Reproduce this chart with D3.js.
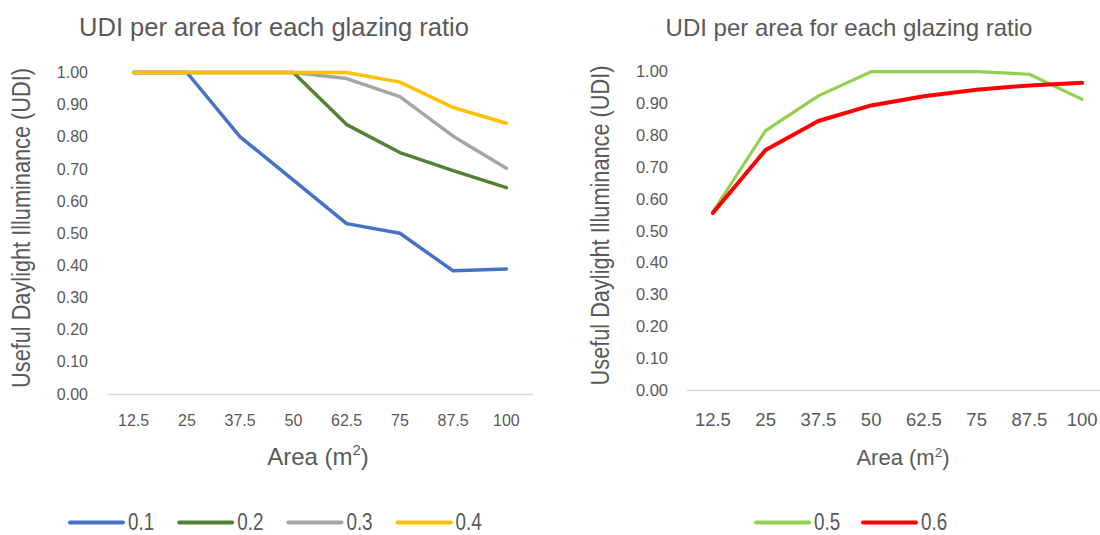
<!DOCTYPE html>
<html>
<head>
<meta charset="utf-8">
<script src="https://cdn.jsdelivr.net/npm/d3@7"></script>
<style>
  html, body { margin: 0; padding: 0; background: #fff; }
  svg { display: block; }
  text { fill: #595959; }
</style>
</head>
<body>
<svg id="chart" width="1100" height="535"></svg>
<script>
// Floor areas (m²) on the category axis
const areas = ["12.5", "25", "37.5", "50", "62.5", "75", "87.5", "100"];
// UDI tick values shared by both panels
const udiTicks = [0, 0.1, 0.2, 0.3, 0.4, 0.5, 0.6, 0.7, 0.8, 0.9, 1.0];

// Glazing ratio names
const ratiosLeft = ["0.1", "0.2", "0.3", "0.4"];
const ratiosRight = ["0.5", "0.6"];

// UDI per area for each glazing ratio
const udi01 = [1.00, 1.00, 0.80, 0.665, 0.53, 0.50, 0.383, 0.389];
const udi02 = [1.00, 1.00, 1.00, 1.00, 0.838, 0.751, 0.695, 0.642];
const udi03 = [1.00, 1.00, 1.00, 1.00, 0.981, 0.925, 0.802, 0.702];
const udi04 = [1.00, 1.00, 1.00, 1.00, 1.00, 0.970, 0.891, 0.842];
const udi05 = [0.56, 0.815, 0.924, 1.00, 1.00, 1.00, 0.992, 0.913];
const udi06 = [0.556, 0.754, 0.845, 0.894, 0.923, 0.943, 0.957, 0.965];

const colors = {
  "0.1": "#4472C4", "0.2": "#548235", "0.3": "#A5A5A5", "0.4": "#FFC000",
  "0.5": "#92D050", "0.6": "#FF0000"
};

const svg = d3.select("#chart");
const TEXT = "#595959";
const FONT = "'Liberation Sans', Arial, sans-serif";
// horizontal squeeze giving a condensed look for axis titles and legend
const NARROW = 0.82;

function drawPanel(cfg) {
  const g = svg.append("g");

  const x = d3.scaleBand().domain(areas).range([cfg.left, cfg.right]);
  const y = d3.scaleLinear().domain([0, 1]).range([cfg.bottom, cfg.top]);

  // title
  g.append("text")
    .attr("x", cfg.titleX).attr("y", 36)
    .attr("text-anchor", "middle")
    .style("font-family", FONT)
    .style("font-size", cfg.titleSize + "px")
    .text("UDI per area for each glazing ratio");

  // y axis (labels only)
  const yAxis = g.append("g")
    .attr("transform", `translate(${cfg.left},0)`)
    .call(d3.axisLeft(y).tickValues(udiTicks).tickFormat(d3.format(".2f"))
      .tickSize(0).tickPadding(cfg.yPad));
  yAxis.select(".domain").remove();
  yAxis.selectAll("text")
    .style("font-family", FONT)
    .style("font-size", cfg.yTickSize + "px")
    .attr("fill", TEXT);

  // x axis with light baseline
  const xAxis = g.append("g")
    .attr("transform", `translate(0,${cfg.bottom})`)
    .call(d3.axisBottom(x).tickSize(0).tickSizeOuter(0).tickPadding(cfg.xPad));
  xAxis.select(".domain").attr("stroke", "#D9D9D9").attr("stroke-width", 1.5);
  xAxis.selectAll("text")
    .style("font-family", FONT)
    .style("font-size", cfg.xTickSize + "px")
    .attr("fill", TEXT);

  // axis titles
  g.append("text")
    .attr("transform", `translate(${cfg.yTitleX},${cfg.yTitleY}) rotate(-90) scale(${NARROW},1)`)
    .attr("text-anchor", "middle")
    .style("font-family", FONT)
    .style("font-size", cfg.yTitleSize + "px")
    .text("Useful Daylight Illuminance (UDI)");

  const xt = g.append("text")
    .attr("x", cfg.xTitleX).attr("y", cfg.xTitleY)
    .attr("text-anchor", "middle")
    .style("font-family", FONT)
    .style("font-size", cfg.xTitleSize + "px");
  xt.append("tspan").text("Area (m");
  xt.append("tspan").attr("dy", -cfg.xTitleSize * 0.38)
    .style("font-size", (cfg.xTitleSize * 0.62) + "px").text("2");
  xt.append("tspan").attr("dy", cfg.xTitleSize * 0.38).text(")");

  // series lines
  const line = d3.line()
    .x((d, i) => x(areas[i]) + x.bandwidth() / 2)
    .y(d => y(d));

  cfg.series.forEach(s => {
    g.append("path")
      .datum(s.values)
      .attr("fill", "none")
      .attr("stroke", colors[s.name])
      .attr("stroke-width", s.width)
      .attr("stroke-linejoin", "round")
      .attr("stroke-linecap", "round")
      .attr("d", line);
  });

  // legend
  const lg = g.append("g");
  cfg.series.forEach((s, i) => {
    const lx = cfg.legendX + i * cfg.legendStep;
    lg.append("line")
      .attr("x1", lx).attr("x2", lx + 53)
      .attr("y1", 522.5).attr("y2", 522.5)
      .attr("stroke", colors[s.name])
      .attr("stroke-width", 4)
      .attr("stroke-linecap", "round");
    lg.append("text")
      .attr("transform", `translate(${lx + 58},529.5) scale(${NARROW},1)`)
      .style("font-family", FONT)
      .style("font-size", "23px")
      .text(s.name);
  });
}

drawPanel({
  left: 107, right: 533, top: 72.5, bottom: 394,
  titleX: 274, titleSize: 25.5,
  yPad: 19, yTickSize: 16, xPad: 21, xTickSize: 16,
  yTitleX: 30, yTitleY: 228, yTitleSize: 26.5,
  xTitleX: 318, xTitleY: 464.5, xTitleSize: 24,
  legendX: 70, legendStep: 109.2,
  series: [
    { name: ratiosLeft[0], values: udi01, width: 3.5 },
    { name: ratiosLeft[1], values: udi02, width: 3.5 },
    { name: ratiosLeft[2], values: udi03, width: 3.5 },
    { name: ratiosLeft[3], values: udi04, width: 3.5 }
  ]
});

drawPanel({
  left: 686.5, right: 1108.5, top: 71.7, bottom: 390,
  titleX: 849, titleSize: 24,
  yPad: 18.5, yTickSize: 16.5, xPad: 22.5, xTickSize: 18.5,
  yTitleX: 609, yTitleY: 225.5, yTitleSize: 26.5,
  xTitleX: 903, xTitleY: 465, xTitleSize: 22,
  legendX: 756, legendStep: 107,
  series: [
    { name: ratiosRight[0], values: udi05, width: 3.2 },
    { name: ratiosRight[1], values: udi06, width: 4 }
  ]
});
</script>
</body>
</html>
